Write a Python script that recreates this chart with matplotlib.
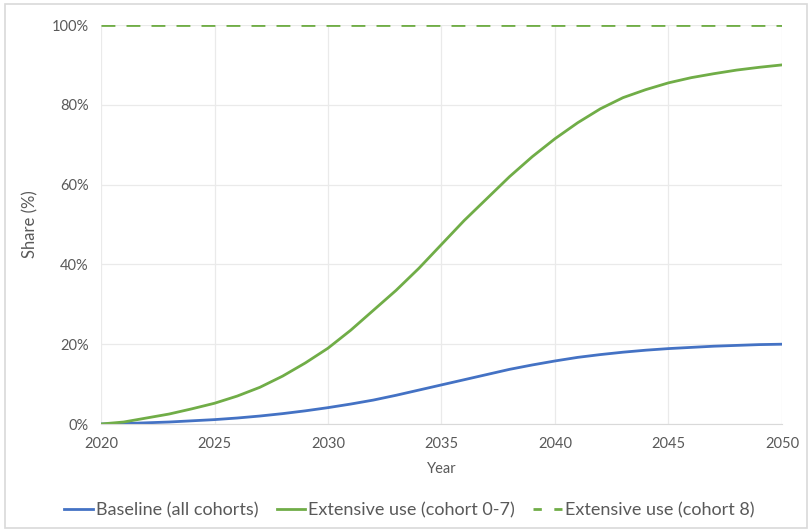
import matplotlib.pyplot as plt
from matplotlib.lines import Line2D
from matplotlib.patches import Rectangle
from matplotlib.ticker import PercentFormatter

plt.rcParams['font.family'] = ['Lato', 'DejaVu Sans']

# data (share in %)
years = list(range(2020, 2051))
baseline = [0, 0.1, 0.3, 0.5, 0.8, 1.1, 1.5, 2.0, 2.6, 3.3, 4.1, 5.0, 6.0, 7.2, 8.5, 9.8,
            11.1, 12.4, 13.7, 14.8, 15.8, 16.7, 17.4, 18.0, 18.5, 18.9, 19.2, 19.5, 19.7,
            19.9, 20.0]
extensive_0_7 = [0, 0.5, 1.5, 2.5, 3.8, 5.2, 7.0, 9.2, 12.0, 15.3, 19.0, 23.5, 28.5, 33.5,
                 39.0, 45.0, 51.0, 56.5, 62.0, 67.0, 71.5, 75.5, 79.0, 81.8, 83.8, 85.5,
                 86.8, 87.8, 88.7, 89.4, 90.0]
extensive_8 = [100] * len(years)

fig = plt.figure(figsize=(8.12, 5.32), dpi=100)
ax = fig.add_axes([0.1244, 0.203, 0.8386, 0.75])

ax.plot(years, baseline, color='#4472C4', lw=2, label='Baseline (all cohorts)')
ax.plot(years, extensive_0_7, color='#70AD47', lw=2, label='Extensive use (cohort 0-7)')
ax.plot(years, extensive_8, color='#70AD47', lw=2, ls=(0, (5, 4)),
        label='Extensive use (cohort 8)')

ax.set_xlim(2020, 2050)
ax.set_ylim(0, 100)
ax.set_xticks(range(2020, 2051, 5))
ax.set_yticks(range(0, 101, 20))
ax.yaxis.set_major_formatter(PercentFormatter(decimals=0))
ax.grid(True, color='#EAEAEA', lw=0.9)
ax.set_axisbelow(True)
for s in ['top', 'right', 'left']:
    ax.spines[s].set_visible(False)
ax.spines['bottom'].set_color('#D9D9D9')
ax.tick_params(length=0, colors='#595959', labelsize=10.5, pad=9)

ax.set_xlabel('Year', color='#595959', fontsize=10.5, labelpad=8)
ax.set_ylabel('Share (%)', color='#595959', fontsize=12, labelpad=9)

# legend: shorter dash pattern for the dashed entry, like the original
handles, labels = ax.get_legend_handles_labels()
handles[2] = Line2D([], [], color='#70AD47', lw=2, ls=(0, (3, 4.5)))
fig.legend(handles, labels, loc='center', bbox_to_anchor=(0.504, 0.041), ncol=3,
           frameon=False, fontsize=13, labelcolor='#595959', handlelength=1.6,
           columnspacing=1.0, handletextpad=0.15)

fig.patches.append(Rectangle((0.006, 0.008), 0.988, 0.984, transform=fig.transFigure,
                             fill=False, ec='#D9D9D9', lw=1.2))

fig.savefig('out.png', dpi=100)
